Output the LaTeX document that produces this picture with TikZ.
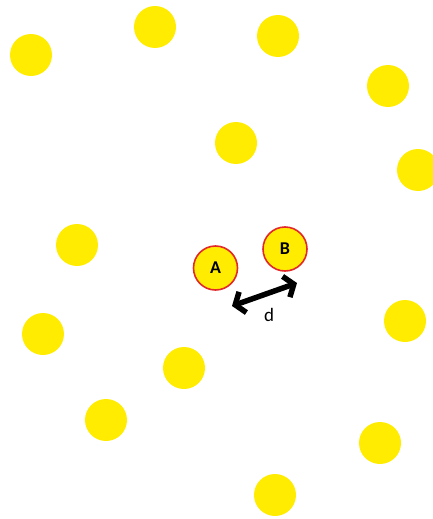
\documentclass[tikz,border=0pt]{standalone}
\usepackage{fontspec}
\setmainfont{Carlito}
\usetikzlibrary{arrows.meta}
\definecolor{dotyellow}{RGB}{255,236,0}
\definecolor{rimred}{RGB}{226,40,40}
\tikzset{
  dot/.style={circle,fill=dotyellow,minimum size=42pt,inner sep=0pt},
  keydot/.style={circle,fill=dotyellow,draw=rimred,line width=1.6pt,minimum size=44pt,inner sep=0pt,font=\fontsize{18}{18}\selectfont\bfseries},
  distarrow/.style={line width=5.5pt,{Straight Barb[length=8pt,width=22pt]}-{Straight Barb[length=8pt,width=22pt]}}
}
\begin{document}
\begin{tikzpicture}[x=1pt,y=-1pt]
\useasboundingbox (0,0) rectangle (433,519);
\clip (0,0) rectangle (433,519);
\node[dot] (p1) at (31,55) {};
\node[dot] (p2) at (155,27) {};
\node[dot] (p3) at (278,36) {};
\node[dot] (p4) at (388,86) {};
\node[dot] (p5) at (236,143) {};
\node[dot] (p6) at (418,170) {};
\node[dot] (p7) at (77,245) {};
\node[dot] (p8) at (43,334) {};
\node[dot] (p9) at (405,321) {};
\node[dot] (p10) at (184,368) {};
\node[dot] (p11) at (106,420) {};
\node[dot] (p12) at (380,443) {};
\node[dot] (p13) at (275,495) {};
\node[keydot] (A) at (215.5,268) {A};
\node[keydot] (B) at (285,249) {B};
\coordinate (e1) at (232,306);
\coordinate (e2) at (297,283);
\draw[distarrow] (e1) -- (e2);
\node[font=\fontsize{19}{19}\selectfont] (d) at (269,315) {d};
\end{tikzpicture}
\end{document}
